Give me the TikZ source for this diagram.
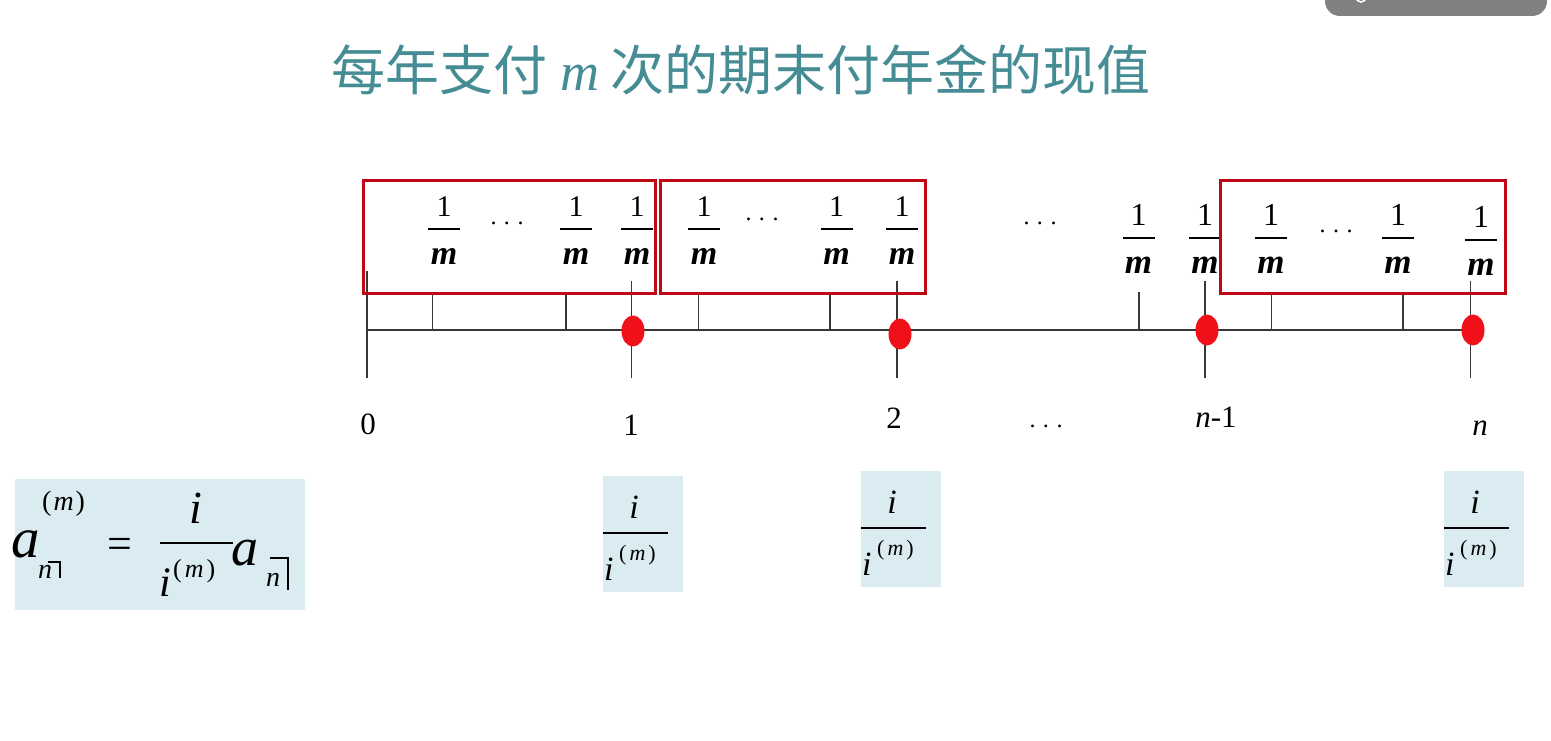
\documentclass[tikz,border=0pt]{standalone}
\usepackage{fontspec}
\setmainfont{Liberation Serif}
\newfontfamily\cjk{Noto Sans CJK SC}
\usetikzlibrary{shapes.geometric}
\definecolor{titlec}{RGB}{70,140,148}
\definecolor{axisc}{RGB}{55,55,55}
\definecolor{boxred}{RGB}{192,8,20}
\definecolor{dotred}{RGB}{240,16,26}
\definecolor{lightb}{RGB}{218,236,241}
\definecolor{uigray}{RGB}{128,128,128}
\newcommand\fs[1]{\fontsize{#1}{#1}\selectfont}
% one-over-m fraction: name, x, bar y, size of 1, size of m
\newcommand\frm[5]{%
  \node[anchor=base,inner sep=0pt,font=\fs{#4}] (#1n) at (#2,{#3-12.5}) {1};
  \draw[fbar] ({#2-16},#3) -- ({#2+16},#3);
  \node[anchor=base,inner sep=0pt,font=\fs{#5}\bfseries\itshape] (#1d) at (#2,{#3+35}) {m};
}
% blue fraction box i / i^(m): name, left x, top y
\newcommand\ibox[3]{%
  \node[bluebox,anchor=north west,minimum width=80pt,minimum height=116pt] (#1) at (#2,#3) {};
  \node[anchor=base,inner sep=0pt,font=\fs{34}\itshape] (#1n) at ({#2+31},{#3+42}) {i};
  \draw[fbar] (#2,{#3+57}) -- ({#2+65},{#3+57});
  \node[anchor=base west,inner sep=0pt,font=\fs{34}\itshape] (#1d) at ({#2+1},{#3+104}) {i};
  \node[anchor=base west,inner sep=0pt,font=\fs{22}] (#1s) at ({#2+16},{#3+84}) {(\hspace{3pt}\textit{m}\hspace{3pt})};
}
\begin{document}
\begin{tikzpicture}[x=1pt,y=-1pt,
  axis/.style={draw=axisc,line width=1.3pt},
  redbox/.style={draw=boxred,line width=2.8pt},
  dotr/.style={ellipse,fill=dotred,draw=none,minimum width=23pt,minimum height=31pt,inner sep=0pt},
  bluebox/.style={fill=lightb,draw=none,inner sep=0pt},
  lbl/.style={anchor=base,inner sep=0pt,font=\fs{31}},
  dots/.style={anchor=base,inner sep=0pt,font=\fs{24}},
  fbar/.style={line width=1.4pt,black},
  ang/.style={line width=1.1pt,black},
  mth/.style={anchor=base west,inner sep=0pt}]
\useasboundingbox (0,0) rectangle (1551,741);
% UI element top right
\fill[uigray,rounded corners=15pt] (1325,-30) rectangle (1547,16);
\draw[white,line width=1.6pt] (1361,-3) circle (5);
% title
\node[anchor=base west,inner sep=0pt,text=titlec,font=\fs{54}] (title) at (331,91)
  {{\cjk 每年支付}\hspace{13pt}\textit{m}\hspace{11pt}{\cjk 次的期末付年金的现值}};
% axis
\coordinate (t0) at (367,330);
\coordinate (tn) at (1472,330);
\draw[axis] (t0) -- (tn);
% major ticks
\draw[axis] (367,271) -- (367,378);
\foreach \x in {631.5,897,1205,1470.5} \draw[axis] (\x,281) -- (\x,378);
% minor ticks
\foreach \x in {432.5,566,698.5,830,1139,1271.5,1403} \draw[axis] (\x,292) -- (\x,330);
% red dots
\node[dotr] (d1) at (633,331) {};
\node[dotr] (d2) at (900,334) {};
\node[dotr] (d3) at (1207,330) {};
\node[dotr] (d4) at (1473,330) {};
% fractions 1/m
\frm{fa}{444}{229}{30}{34}
\node[dots] (dta) at (507,224) {.\hspace{7.5pt}.\hspace{7.5pt}.};
\frm{fb}{576}{229}{30}{34}
\frm{fc}{637}{229}{30}{34}
\frm{fd}{704}{229}{30}{34}
\node[dots] (dtb) at (762,220) {.\hspace{7.5pt}.\hspace{7.5pt}.};
\frm{fe}{836.5}{229}{30}{34}
\frm{ff}{902}{229}{30}{34}
\node[dots] (dtc) at (1040,224) {.\hspace{7.5pt}.\hspace{7.5pt}.};
\frm{fg}{1138.5}{238}{32}{35}
\frm{fh}{1205}{238}{32}{35}
\frm{fi}{1271}{238}{32}{35}
\node[dots] (dtd) at (1336,233) {.\hspace{7.5pt}.\hspace{7.5pt}.};
\frm{fj}{1398}{238}{32}{35}
\frm{fk}{1481}{240}{32}{35}
% red boxes
\node[redbox,anchor=north west,minimum width=292pt,minimum height=113pt,inner sep=0pt] (rb1) at (362,179) {};
\node[redbox,anchor=north west,minimum width=265pt,minimum height=113pt,inner sep=0pt] (rb2) at (659,179) {};
\node[redbox,anchor=north west,minimum width=285pt,minimum height=113pt,inner sep=0pt] (rb3) at (1219,179) {};
% axis labels
\node[lbl] (l0) at (368,434) {0};
\node[lbl] (l1) at (631,435) {1};
\node[lbl] (l2) at (894,428) {2};
\node[dots] (l3) at (1046,427) {.\hspace{7.5pt}.\hspace{7.5pt}.};
\node[lbl] (l4) at (1216,427) {\textit{n}-1};
\node[lbl] (l5) at (1480,435) {\textit{n}};
% main formula
\node[bluebox,anchor=north west,minimum width=290pt,minimum height=131pt] (fbox) at (15,479) {};
\node[mth,font=\fs{57}\itshape] (a1) at (11,557) {a};
\node[mth,font=\fs{28}] (s1) at (42,510) {(\hspace{2pt}\textit{m}\hspace{2pt})};
\node[mth,font=\fs{28}\itshape] (n1) at (38,578) {n};
\draw[ang] (48,562) -- (60,562) -- (60,578);
\node[anchor=base,inner sep=0pt,font=\fs{44}] (eq) at (120,558) {=};
\node[anchor=base,inner sep=0pt,font=\fs{46}\itshape] (fn) at (196,523) {i};
\draw[fbar] (160,543) -- (233,543);
\node[mth,font=\fs{42}\itshape] (fd) at (159,596) {i};
\node[mth,font=\fs{26}] (fs) at (173,577) {(\hspace{3pt}\textit{m}\hspace{3pt})};
\node[mth,font=\fs{54}\itshape] (a2) at (231,565) {a};
\node[mth,font=\fs{28}\itshape] (n2) at (266,586) {n};
\draw[ang] (270,558) -- (288,558) -- (288,590);
% fraction boxes
\ibox{b1}{603}{476}
\ibox{b2}{861}{471}
\ibox{b3}{1444}{471}
\end{tikzpicture}
\end{document}
